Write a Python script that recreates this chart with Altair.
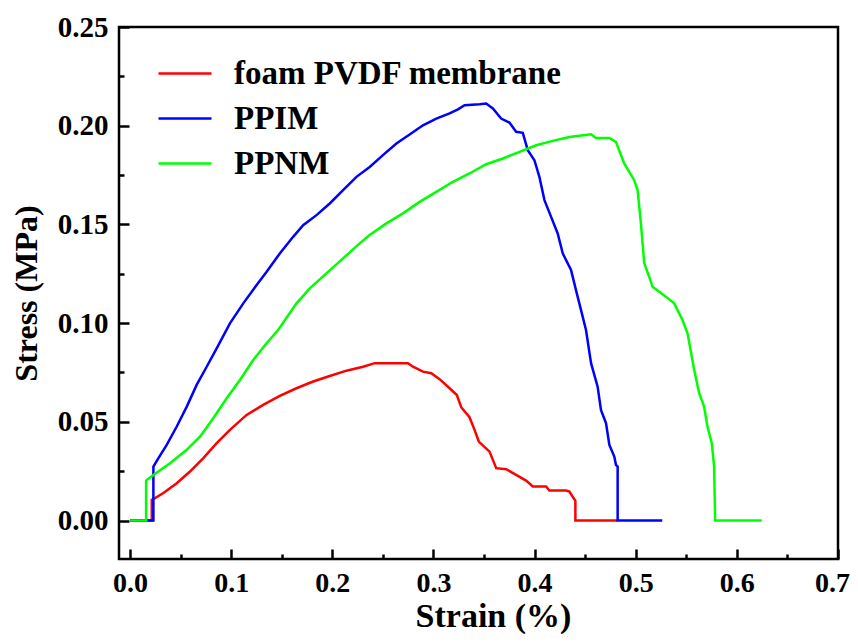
import altair as alt
import pandas as pd

series_names = ["foam PVDF membrane", "PPIM", "PPNM"]
series_colors = ["#FF0000", "#0000FF", "#00FF00"]

foam_strain = [0.0, 0.0214, 0.0214, 0.023, 0.0329, 0.0461, 0.0592, 0.0724, 0.0856, 0.0987,
               0.1152, 0.1316, 0.148, 0.1645, 0.181, 0.1974, 0.2139, 0.2303, 0.2419, 0.2748,
               0.2797, 0.2896, 0.2978, 0.306, 0.3159, 0.3231, 0.3274, 0.3356, 0.3406, 0.3448,
               0.3554, 0.362, 0.3719, 0.3817, 0.3916, 0.3982, 0.4113, 0.4146, 0.4311, 0.4344,
               0.4383, 0.4403, 0.4403, 0.482]
foam_stress = [0, 0, 0.0105, 0.0108, 0.0139, 0.0189, 0.0248, 0.0316, 0.0392, 0.0459,
               0.0535, 0.0586, 0.0631, 0.067, 0.0704, 0.0732, 0.0759, 0.0779, 0.0797, 0.0797,
               0.0779, 0.0754, 0.0746, 0.0716, 0.067, 0.0636, 0.0574, 0.0523, 0.0459, 0.04,
               0.0349, 0.0265, 0.026, 0.0231, 0.0202, 0.0172, 0.0172, 0.0152, 0.0152, 0.0147,
               0.0115, 0.0100, 0, 0]

ppim_strain = [0.0, 0.023, 0.023, 0.028, 0.0362, 0.0461, 0.056, 0.0658, 0.0757, 0.0856,
               0.0987, 0.1119, 0.1251, 0.135, 0.148, 0.1612, 0.1711, 0.1843, 0.1974, 0.2106,
               0.2238, 0.2369, 0.25, 0.2633, 0.2764, 0.2896, 0.3028, 0.3159, 0.3242, 0.3307,
               0.3455, 0.3521, 0.3587, 0.3669, 0.3751, 0.3817, 0.3883, 0.3932, 0.3998, 0.4047,
               0.4097, 0.4163, 0.4228, 0.4278, 0.436, 0.4409, 0.4459, 0.4508, 0.4558, 0.4623,
               0.4656, 0.4706, 0.4739, 0.4788, 0.4804, 0.4821, 0.4821, 0.5262]
ppim_stress = [0, 0, 0.0273, 0.0316, 0.0383, 0.0476, 0.0577, 0.0687, 0.0779, 0.0872,
               0.0999, 0.11, 0.1193, 0.126, 0.1353, 0.1437, 0.1496, 0.1547, 0.1606, 0.1674,
               0.1741, 0.1791, 0.1851, 0.191, 0.1955, 0.2002, 0.2036, 0.2062, 0.2083, 0.2104,
               0.2109, 0.2112, 0.2087, 0.2036, 0.2016, 0.1969, 0.1964, 0.1876, 0.1825, 0.1741,
               0.1623, 0.1538, 0.1454, 0.1353, 0.1269, 0.1167, 0.1066, 0.0965, 0.0797, 0.0678,
               0.056, 0.0493, 0.0383, 0.0324, 0.0282, 0.0273, 0, 0]

ppnm_strain = [0.0, 0.0158, 0.0158, 0.023, 0.0395, 0.056, 0.0691, 0.0822, 0.0955, 0.1086,
               0.1217, 0.1349, 0.1464, 0.1645, 0.1777, 0.1941, 0.2106, 0.227, 0.2369, 0.2534,
               0.2698, 0.2863, 0.3028, 0.3192, 0.3356, 0.3521, 0.3686, 0.385, 0.4015, 0.418,
               0.4344, 0.4558, 0.4607, 0.4739, 0.4804, 0.4886, 0.4985, 0.5018, 0.5051, 0.5084,
               0.5133, 0.5166, 0.5298, 0.538, 0.5462, 0.5512, 0.5578, 0.5627, 0.5676, 0.5709,
               0.5752, 0.5775, 0.5785, 0.6246]
ppnm_stress = [0, 0, 0.0202, 0.0231, 0.029, 0.0358, 0.0425, 0.0518, 0.0619, 0.0712,
               0.0813, 0.0898, 0.0965, 0.11, 0.1176, 0.1252, 0.1328, 0.1404, 0.1446, 0.1505,
               0.1556, 0.1614, 0.1665, 0.1716, 0.1758, 0.1805, 0.1834, 0.1867, 0.1901, 0.1923,
               0.1943, 0.1957, 0.1938, 0.1938, 0.1918, 0.1809, 0.1724, 0.1674, 0.1505, 0.1303,
               0.1235, 0.1184, 0.1134, 0.11, 0.1016, 0.0948, 0.0763, 0.0645, 0.0577, 0.0476,
               0.0392, 0.0273, 0, 0]

x_major = [0.0, 0.1, 0.2, 0.3, 0.4, 0.5, 0.6, 0.7]
x_minor = [0.05, 0.15, 0.25, 0.35, 0.45, 0.55, 0.65]
y_major = [0.0, 0.05, 0.10, 0.15, 0.20, 0.25]
y_minor = [0.025, 0.075, 0.125, 0.175, 0.225]

rows = []
for name, xs, ys in zip(series_names,
                        [foam_strain, ppim_strain, ppnm_strain],
                        [foam_stress, ppim_stress, ppnm_stress]):
    for i, (a, b) in enumerate(zip(xs, ys)):
        rows.append({"series": name, "strain": a, "stress": b, "idx": i})
df = pd.DataFrame(rows)

FONT = "Liberation Serif"
xscale = alt.Scale(domain=[-0.011, 0.7], nice=False, zero=False)
yscale = alt.Scale(domain=[-0.0195, 0.25], nice=False, zero=False)

common_axis = dict(domain=False, grid=False, tickColor="black", tickWidth=2.5,
                   labelFont=FONT, labelFontWeight="bold", labelColor="black",
                   titleFont=FONT, titleFontWeight="bold", titleColor="black")

main = alt.Chart(df).mark_line(strokeWidth=2.5).encode(
    x=alt.X("strain:Q", scale=xscale,
            axis=alt.Axis(orient="bottom", values=x_major, format=".1f", title="Strain (%)",
                          tickSize=10, offset=-10, labelPadding=10, labelFontSize=28,
                          labelFlush=False,
                          labelOffset={"condition": {"test": "datum.value > 0.65", "value": -6},
                                       "value": 0},
                          titleFontSize=34, titlePadding=2.5, titleX=374,
                          **common_axis)),
    y=alt.Y("stress:Q", scale=yscale,
            axis=alt.Axis(orient="left", values=y_major, format=".2f", title="Stress (MPa)",
                          tickSize=10, offset=-10, labelPadding=11, labelFontSize=29,
                          labelFlush=False, titleFontSize=32, titlePadding=14,
                          **common_axis)),
    color=alt.Color("series:N",
                    scale=alt.Scale(domain=series_names, range=series_colors),
                    legend=alt.Legend(orient="none", legendX=38, legendY=18.5, title=None,
                                      symbolType="stroke", symbolSize=2809,
                                      symbolStrokeWidth=2.5, labelFont=FONT,
                                      labelFontWeight="bold", labelFontSize=33,
                                      labelColor="black", labelOffset=21, rowPadding=0,
                                      padding=0, labelLimit=0)),
    order=alt.Order("idx:Q"),
)

minor = alt.Chart(df).mark_line(opacity=0).encode(
    x=alt.X("strain:Q", scale=xscale,
            axis=alt.Axis(orient="bottom", values=x_minor, labels=False, title=None,
                          tickSize=5, offset=-5, **common_axis)),
    y=alt.Y("stress:Q", scale=yscale,
            axis=alt.Axis(orient="left", values=y_minor, labels=False, title=None,
                          tickSize=5, offset=-5, **common_axis)),
    detail="series:N",
    order=alt.Order("idx:Q"),
)

chart = alt.layer(main, minor).resolve_axis(x="independent", y="independent").properties(
    width=719, height=532,
    autosize=alt.AutoSizeParams(type="none"),
    padding={"left": 111, "top": 19, "right": 12, "bottom": 75},
    background="white",
).configure_view(stroke="black", strokeWidth=2.5)

chart.save("out.html", embed_options={"renderer": "svg", "actions": False})
